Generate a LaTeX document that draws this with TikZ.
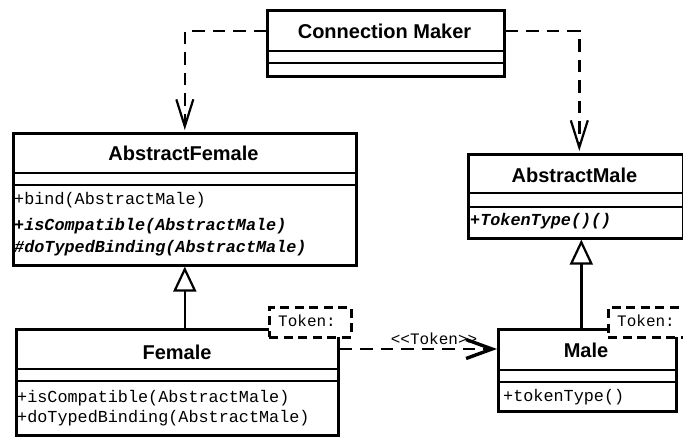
\documentclass[tikz,border=0pt]{standalone}
\usepackage{fontspec}
\setmainfont{Liberation Sans}
\newfontfamily\monofont{Liberation Mono}
\usetikzlibrary{arrows.meta}
\begin{document}
\begin{tikzpicture}[x=1pt,y=-1pt,
  cls/.style={draw, line width=2.6pt, fill=white, inner sep=0pt, anchor=north west},
  cname/.style={font=\fontsize{20}{24}\selectfont\bfseries, inner sep=0pt},
  meth/.style={font=\monofont\fontsize{16.8}{20}\selectfont, inner sep=0pt, anchor=west},
  ameth/.style={font=\monofont\fontsize{16.8}{20}\selectfont\bfseries\itshape, inner sep=0pt, anchor=west},
  tokbox/.style={draw, line width=2.6pt, dash pattern=on 9pt off 5.5pt, fill=white, inner sep=0pt, anchor=north west},
  toktext/.style={font=\monofont\fontsize{16}{19}\selectfont, inner sep=0pt, anchor=west},
  divider/.style={line width=2.4pt},
  dep/.style={line width=2.6pt, dash pattern=on 12.5pt off 8pt},
  vtip/.style={-{Straight Barb[length=27pt,width=17pt,line width=2.2pt]}},
  deptip/.style={-{Straight Barb[length=26pt,width=19pt,line width=3.4pt]}},
  inh/.style={line width=2.4pt, -{Triangle[open,length=25pt,width=23pt,line width=2.2pt]}}
]
\fill[white] (0,0) rectangle (683,437);
\clip (0,0) rectangle (683,437);

% Connection Maker
\node[cls, minimum width=237pt, minimum height=66pt] (CM) at (266,9) {};
\node[cname] (CMn) at (384.5,31) {Connection Maker};
\draw[divider] (CM.west |- 0,51) -- (CM.east |- 0,51);
\draw[divider] (CM.west |- 0,63) -- (CM.east |- 0,63);

% AbstractFemale
\node[cls, minimum width=343pt, minimum height=132pt] (AF) at (12,132) {};
\node[cname] (AFn) at (183.5,153) {AbstractFemale};
\draw[divider] (AF.west |- 0,173) -- (AF.east |- 0,173);
\draw[divider] (AF.west |- 0,185) -- (AF.east |- 0,185);
\node[meth] (AF1) at (14,200) {+bind(AbstractMale)};
\node[ameth] (AF2) at (14,226) {+isCompatible(AbstractMale)};
\node[ameth] (AF3) at (14,248) {\#doTypedBinding(AbstractMale)};

% AbstractMale
\node[cls, minimum width=215pt, minimum height=84pt] (AM) at (467,153) {};
\node[cname] (AMn) at (574.5,175) {AbstractMale};
\draw[divider] (AM.west |- 0,193) -- (AM.east |- 0,193);
\draw[divider] (AM.west |- 0,207) -- (AM.east |- 0,207);
\node[ameth] (AM1) at (470,221) {+TokenType()()};

% Female
\node[cls, minimum width=322pt, minimum height=106pt] (F) at (15,328) {};
\node[cname] (Fn) at (177,352) {Female};
\draw[divider] (F.west |- 0,369) -- (F.east |- 0,369);
\draw[divider] (F.west |- 0,381) -- (F.east |- 0,381);
\node[meth] (F1) at (17,398) {+isCompatible(AbstractMale)};
\node[meth] (F2) at (17,418) {+doTypedBinding(AbstractMale)};

% Male
\node[cls, minimum width=178pt, minimum height=82pt] (M) at (497,328) {};
\node[cname] (Mn) at (586,350) {Male};
\draw[divider] (M.west |- 0,370) -- (M.east |- 0,370);
\draw[divider] (M.west |- 0,382) -- (M.east |- 0,382);
\node[meth] (M1) at (503,397) {+tokenType()};

% template parameter boxes
\node[tokbox, minimum width=82pt, minimum height=30pt] (FT) at (268,306) {};
\node[toktext] (FTt) at (278,321) {Token:};
\node[tokbox, minimum width=100pt, minimum height=30pt] (MT) at (607,306) {};
\node[toktext] (MTt) at (617,321) {Token:};

% dependencies from Connection Maker
\draw[dep, vtip] ([yshift=-22pt]CM.north west) -| ([yshift=2pt]AF.north);
\draw[dep, vtip] ([yshift=-22pt]CM.north east) -| ([xshift=3.5pt,yshift=2pt]AM.north);

% generalisations
\draw[inh] (AF.south |- F.north) -- (AF.south);
\draw[inh] ([xshift=-6pt]M.north) -- ([xshift=-6pt]M.north |- AM.south);

% Female -> Male dependency
\draw[dep, deptip] ([yshift=-21pt]F.north east) -- ([yshift=-21pt]M.north west)
  node[pos=0.6, yshift=10pt, toktext, anchor=center] (lbl) {<<Token>>};
\end{tikzpicture}
\end{document}
